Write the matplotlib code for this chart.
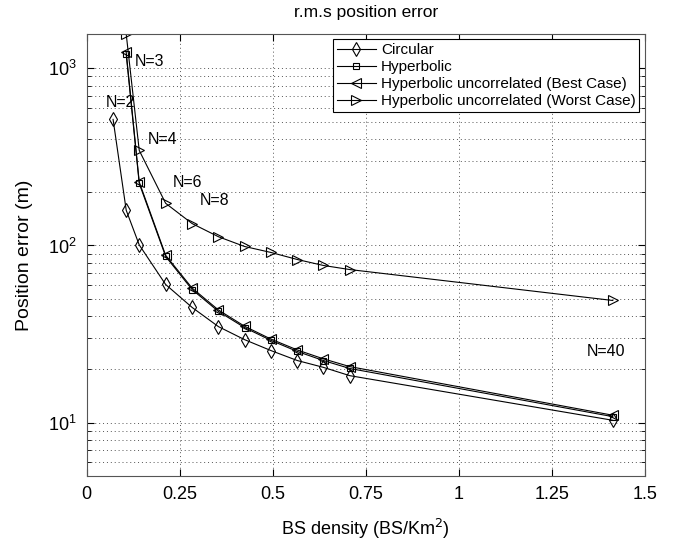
import numpy as np
import matplotlib
matplotlib.use("Agg")
import matplotlib.pyplot as plt
from matplotlib.ticker import LogLocator, NullFormatter

plt.rcParams['font.family'] = ['Liberation Sans', 'DejaVu Sans']

# --- DATA ---
density_all = [0.0707, 0.106, 0.141, 0.212, 0.283, 0.354, 0.424, 0.495, 0.566, 0.636, 0.707, 1.414]
density_hyp = [0.106, 0.141, 0.212, 0.283, 0.354, 0.424, 0.495, 0.566, 0.636, 0.707, 1.414]

circular = [515, 158, 100.7, 60.2, 44.7, 34.8, 29.4, 25.5, 22.4, 20.5, 18.4, 10.3]
hyperbolic = [1200, 224, 86.7, 56.4, 42.4, 34.4, 29.1, 25.2, 22.4, 20.2, 10.8]
hyp_best = [1230, 228, 88.0, 57.5, 43.2, 35.0, 29.6, 25.7, 22.9, 20.7, 11.0]
hyp_worst = [1560, 344, 173, 133, 112, 98.7, 91.3, 83.3, 77.1, 73.1, 48.9]

labels = ['Circular', 'Hyperbolic',
          'Hyperbolic uncorrelated (Best Case)',
          'Hyperbolic uncorrelated (Worst Case)']

n_text = ['N=2', 'N=3', 'N=4', 'N=6', 'N=8', 'N=40']
n_x = [0.091, 0.169, 0.204, 0.272, 0.344, 1.395]
n_y = [643, 1095, 397, 227, 179, 25.2]

fig = plt.figure(figsize=(6.78, 5.42), dpi=100)
ax = fig.add_axes([0.128, 0.122, 0.823, 0.815])

style = dict(color='black', linewidth=0.8, markerfacecolor='none',
             markeredgecolor='black', markeredgewidth=0.8)
ax.plot(density_all, circular, marker='d', markersize=7, label=labels[0], **style)
ax.plot(density_hyp, hyperbolic, marker='s', markersize=5, label=labels[1], **style)
ax.plot(density_hyp, hyp_best, marker='<', markersize=7, label=labels[2], **style)
ax.plot(density_hyp, hyp_worst, marker='>', markersize=7, label=labels[3], **style)

for t, x, y in zip(n_text, n_x, n_y):
    ax.text(x, y, t, ha='center', va='center', fontsize=11.5)

ax.set_yscale('log')
ax.set_xlim(0, 1.5)
ax.set_ylim(5, 1560)
ax.set_xticks([0, 0.25, 0.5, 0.75, 1, 1.25, 1.5])
ax.set_xticklabels(['0', '0.25', '0.5', '0.75', '1', '1.25', '1.5'])
ax.yaxis.set_major_locator(LogLocator(base=10, numticks=10))
ax.yaxis.set_minor_locator(LogLocator(base=10, subs=np.arange(2, 10), numticks=20))
ax.yaxis.set_minor_formatter(NullFormatter())

grid_style = dict(linestyle=(0, (1, 3)), color='#555555', linewidth=0.7)
ax.grid(True, which='major', axis='both', **grid_style)
ax.grid(True, which='minor', axis='y', **grid_style)
ax.tick_params(which='both', direction='in', top=True, right=True, labelsize=13, pad=7)
ax.tick_params(which='major', length=5)
ax.tick_params(which='minor', length=3)
for s in ax.spines.values():
    s.set_color('#555555')

ax.set_title('r.m.s position error', fontsize=12.5, pad=12)
ax.set_xlabel('BS density (BS/Km$^2$)', fontsize=13, labelpad=10)
ax.set_ylabel('Position error (m)', fontsize=14)
ax.yaxis.set_label_coords(-0.097, 0.5)

leg = ax.legend(loc='upper right', fontsize=11, fancybox=False, framealpha=1,
                edgecolor='black', borderpad=0.25, labelspacing=0.2,
                handlelength=2.6, handletextpad=0.3, borderaxespad=0.35)
leg.get_frame().set_linewidth(0.8)

fig.savefig('out.png', dpi=100)
